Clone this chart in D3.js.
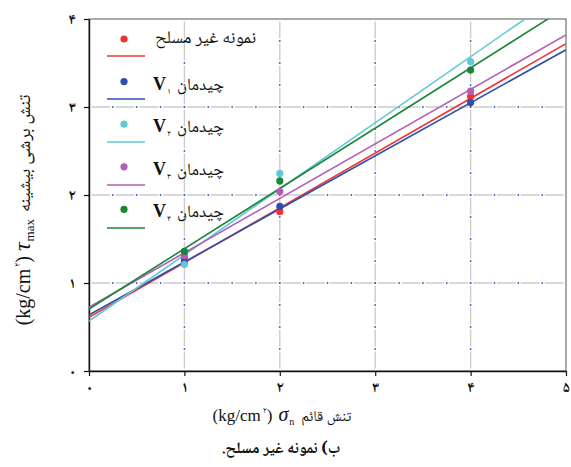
<!DOCTYPE html>
<html>
<head>
<meta charset="utf-8">
<script src="https://cdn.jsdelivr.net/npm/d3@7"></script>
<style>
  body { margin: 0; background: #fff; }
  svg { display: block; }
</style>
</head>
<body>
<svg id="chart" width="571" height="467"></svg>
<script>
// Normal stress levels tested (kg/cm²)
const normalStress = [1, 2, 4];

// Peak shear stress at each normal stress, one array per specimen type
const tauUnreinforced = [1.28, 1.81, 3.12];
const tauV1 = [1.245, 1.87, 3.05];
const tauV2 = [1.21, 2.245, 3.515];
const tauV3 = [1.31, 2.04, 3.18];
const tauV4 = [1.36, 2.16, 3.42];

// Fitted failure envelopes: tau = intercept + slope * sigma
const fitIntercept = [0.61, 0.636, 0.568, 0.724, 0.705];
const fitSlope = [0.622, 0.603, 0.751, 0.619, 0.685];

// Legend texts
const seriesNames = ["نمونه غیر مسلح", "چیدمان", "چیدمان", "چیدمان", "چیدمان"];
const seriesSubscripts = ["", "۱", "۲", "۳", "۴"];
const seriesColors = ["#ee3333", "#2e50ad", "#63c7d8", "#b45cb6", "#1b8539"];

// Axis ticks
const xTicks = [0, 1, 2, 3, 4, 5];
const xTickLabels = ["۰", "۱", "۲", "۳", "۴", "۵"];
const yTicks = [0, 1, 2, 3, 4];
const yTickLabels = ["۰", "۱", "۲", "۳", "۴"];

const seriesValues = [tauUnreinforced, tauV1, tauV2, tauV3, tauV4];

const svg = d3.select("#chart");
const margin = { left: 89, right: 5, top: 19, bottom: 96 };
const W = 571, H = 467;

const x = d3.scaleLinear().domain([0, 5]).range([margin.left, W - margin.right]);
const y = d3.scaleLinear().domain([0, 4]).range([H - margin.bottom, margin.top]);

const persian = "'Noto Naskh Arabic', 'Noto Sans Arabic', 'DejaVu Sans', sans-serif";
const serif = "'Liberation Serif', 'DejaVu Serif', serif";

svg.append("defs").append("clipPath").attr("id", "plotClip")
  .append("rect")
  .attr("x", x(0)).attr("y", y(4))
  .attr("width", x(5) - x(0)).attr("height", y(0) - y(4));

// ---- grid: grey dashes with small blue dots at every quarter unit ----
const grid = svg.append("g");
const gap = 5;
const xq = x(0.25) - x(0);
const yq = y(0) - y(0.25);

grid.selectAll("line.vg").data([1, 2, 3, 4]).join("line")
  .attr("x1", d => x(d)).attr("x2", d => x(d))
  .attr("y1", y(0)).attr("y2", y(4))
  .attr("stroke", "#cccccc").attr("stroke-width", 1.4)
  .attr("stroke-dasharray", `${yq - gap} ${gap}`)
  .attr("stroke-dashoffset", yq - gap + gap / 2);

grid.selectAll("line.hg").data([1, 2, 3]).join("line")
  .attr("x1", x(0)).attr("x2", x(5))
  .attr("y1", d => y(d)).attr("y2", d => y(d))
  .attr("stroke", "#cccccc").attr("stroke-width", 1.4)
  .attr("stroke-dasharray", `${xq - gap} ${gap}`)
  .attr("stroke-dashoffset", xq - gap + gap / 2);

const quarterSteps = d3.range(1, 20).map(k => k * 0.25);
const dots = [];
[1, 2, 3, 4].forEach(v => quarterSteps.filter(s => s < 4).forEach(s => dots.push([v, s])));
[1, 2, 3].forEach(v => quarterSteps.filter(s => s < 5).forEach(s => dots.push([s, v])));
grid.selectAll("circle").data(dots).join("circle")
  .attr("cx", d => x(d[0])).attr("cy", d => y(d[1]))
  .attr("r", 0.9).attr("fill", "#3a5bd0");

// ---- frame and axes ----
svg.append("rect")
  .attr("x", x(0)).attr("y", y(4))
  .attr("width", x(5) - x(0)).attr("height", y(0) - y(4))
  .attr("fill", "none").attr("stroke", "#555").attr("stroke-width", 1);

const xAxis = svg.append("g").attr("transform", `translate(0,${y(0)})`)
  .call(d3.axisBottom(x).tickValues(xTicks).tickSize(5).tickSizeOuter(0)
    .tickFormat((d, i) => xTickLabels[i]));
const yAxis = svg.append("g").attr("transform", `translate(${x(0)},0)`)
  .call(d3.axisLeft(y).tickValues(yTicks).tickSize(5).tickSizeOuter(0)
    .tickFormat((d, i) => yTickLabels[i]));

[xAxis, yAxis].forEach(a => {
  a.select(".domain").attr("stroke", "#111").attr("stroke-width", 1.4);
  a.selectAll(".tick line").attr("stroke", "#111").attr("stroke-width", 1.2);
  a.selectAll(".tick text")
    .attr("fill", "#111")
    .style("font-family", persian)
    .style("font-size", "15px")
    .style("font-weight", "bold");
});
xAxis.selectAll(".tick text").attr("y", 10);
yAxis.selectAll(".tick text").attr("x", -13);

// ---- fitted lines ----
const lineGen = d3.line().x(d => x(d[0])).y(d => y(d[1]));
const plot = svg.append("g").attr("clip-path", "url(#plotClip)");
fitIntercept.forEach((b, i) => {
  plot.append("path")
    .datum([[0, b], [5, b + fitSlope[i] * 5]])
    .attr("d", lineGen)
    .attr("fill", "none")
    .attr("stroke", seriesColors[i])
    .attr("stroke-width", 1.6);
});

// ---- measured points ----
seriesValues.forEach((vals, i) => {
  svg.append("g").selectAll("circle")
    .data(vals.map((v, k) => [normalStress[k], v]))
    .join("circle")
    .attr("cx", d => x(d[0])).attr("cy", d => y(d[1]))
    .attr("r", 3.6).attr("fill", seriesColors[i]);
});

// ---- helper: lay out mixed-script pieces left to right ----
function placeRow(parent, pieces, anchorX, baseline, align) {
  const g = parent.append("g");
  let cursor = 0;
  pieces.forEach(p => {
    if (p.gap !== undefined) { cursor += p.gap; return; }
    const t = g.append("text")
      .attr("x", 0)
      .attr("y", baseline + (p.dy || 0))
      .attr("fill", "#111")
      .style("font-family", p.family)
      .style("font-size", p.size + "px")
      .style("font-style", p.style || "normal")
      .style("font-weight", p.weight || "normal")
      .text(p.text);
    const w = t.node().getComputedTextLength();
    t.attr("x", cursor);
    cursor += w;
  });
  const shift = align === "middle" ? anchorX - cursor / 2 : anchorX;
  g.attr("transform", `translate(${shift},0)`);
  return g;
}

// ---- legend ----
const legend = svg.append("g");
seriesNames.forEach((name, i) => {
  const dotY = 39 + i * 42.6;
  const lineY = 56 + i * 43;
  legend.append("circle").attr("cx", 124).attr("cy", dotY).attr("r", 3.6)
    .attr("fill", seriesColors[i]);
  legend.append("line").attr("x1", 107).attr("x2", 145)
    .attr("y1", lineY).attr("y2", lineY)
    .attr("stroke", seriesColors[i]).attr("stroke-width", 1.6);
  if (seriesSubscripts[i] === "") {
    placeRow(legend, [{ text: name, family: persian, size: 18 }], 155, dotY + 4, "start");
  } else {
    placeRow(legend, [
      { text: "V", family: serif, size: 18, weight: "bold" },
      { gap: 1 },
      { text: seriesSubscripts[i], family: persian, size: 9, dy: 4 },
      { gap: 6 },
      { text: name, family: persian, size: 17 }
    ], 153, dotY + 8, "start");
  }
});

// ---- axis titles ----
const yTitle = svg.append("g").attr("transform", "translate(30,210) rotate(-90)");
placeRow(yTitle, [
  { text: "(kg/cm", family: serif, size: 20 },
  { gap: 2 },
  { text: "۲", family: persian, size: 9, dy: -10 },
  { text: ")", family: serif, size: 20 },
  { gap: 5 },
  { text: "τ", family: serif, size: 24, style: "italic" },
  { gap: 1 },
  { text: "max", family: serif, size: 13, dy: 4 },
  { gap: 7 },
  { text: "تنش برشی بیشینه", family: persian, size: 18 }
], 0, 0, "middle");

placeRow(svg, [
  { text: "(kg/cm", family: serif, size: 17 },
  { gap: 2 },
  { text: "۲", family: persian, size: 9, dy: -8 },
  { text: ")", family: serif, size: 17 },
  { gap: 6 },
  { text: "σ", family: serif, size: 20, style: "italic" },
  { gap: 1 },
  { text: "n", family: serif, size: 10, dy: 4 },
  { gap: 7 },
  { text: "تنش قائم", family: persian, size: 15 }
], 282, 421, "middle");

// ---- caption (right-to-left paragraph) ----
svg.append("text")
  .attr("x", 281).attr("y", 453)
  .attr("text-anchor", "middle")
  .attr("direction", "rtl")
  .style("direction", "rtl")
  .style("unicode-bidi", "embed")
  .style("font-family", persian)
  .style("font-size", "16px")
  .style("font-weight", "bold")
  .attr("fill", "#111")
  .text("ب) نمونه غیر مسلح.");
</script>
</body>
</html>
